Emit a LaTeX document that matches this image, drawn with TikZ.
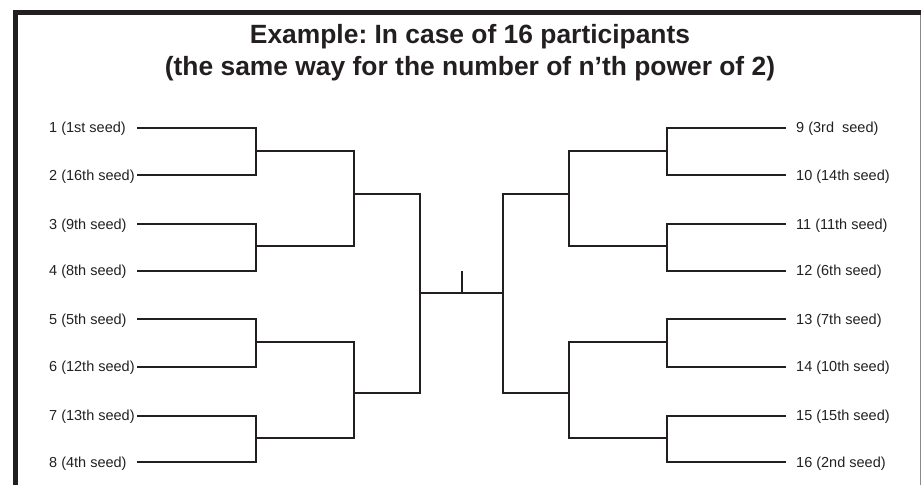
\documentclass[tikz,border=0pt]{standalone}
\usepackage{fontspec}
\setmainfont{Liberation Sans}
\frenchspacing
\begin{document}
\begin{tikzpicture}[x=1pt,y=-1pt,
  br/.style={draw=ink,line width=1.8pt,line cap=rect},
  lbl/.style={anchor=base west,inner sep=0pt,text=ink,font=\fontsize{14.5}{16}\selectfont},
  ttl/.style={anchor=base,inner sep=0pt,text=ink,font=\fontsize{26.4}{30}\selectfont\bfseries}]
\definecolor{ink}{HTML}{231F20}
\definecolor{edge}{HTML}{8A8A8A}
\useasboundingbox (0,0) rectangle (921,485);
% frame
\draw[ink,line width=5pt] (13.3,12.5) -- (921,12.5);
\draw[ink,line width=5pt] (15.8,10) -- (15.8,485);
\draw[edge,line width=1pt] (920,15) -- (920,485);
% title
\node[ttl] (t1) at (470,43) {Example: In case of 16 participants};
\node[ttl] (t2) at (470,75.5) {(the same way for the number of n’th power of 2)};
% row y positions
\def\ya{127.7}\def\yb{175}\def\yc{224}\def\yd{270.7}
\def\ye{319.3}\def\yf{366.7}\def\yg{415.7}\def\yh{462.3}
% left labels
\foreach \n/\y/\t in {1/\ya/1 (1st seed),2/\yb/2 (16th seed),3/\yc/3 (9th seed),4/\yd/4 (8th seed),
  5/\ye/5 (5th seed),6/\yf/6 (12th seed),7/\yg/7 (13th seed),8/\yh/8 (4th seed)}{
  \node[lbl] (l\n) at (49,\y+5) {\t};
  \coordinate (a\n) at (138,\y);
}
% right labels
\foreach \n/\y/\t in {9/\ya/9 (3rd\ \ seed),10/\yb/10 (14th seed),11/\yc/11 (11th seed),12/\yd/12 (6th seed),
  13/\ye/13 (7th seed),14/\yf/14 (10th seed),15/\yg/15 (15th seed),16/\yh/16 (2nd seed)}{
  \node[lbl] (l\n) at (796,\y+5) {\t};
  \coordinate (a\n) at (785,\y);
}
% left bracket coordinates
\coordinate (m1) at (256,150.7);
\coordinate (m2) at (256,245.7);
\coordinate (m3) at (256,342.3);
\coordinate (m4) at (256,437.7);
\coordinate (q1) at (354,194.3);
\coordinate (q2) at (354,392.7);
\coordinate (f1) at (420,292.7);
% right bracket coordinates
\coordinate (m5) at (667.3,150.7);
\coordinate (m6) at (667.3,245.7);
\coordinate (m7) at (667.3,342.3);
\coordinate (m8) at (667.3,437.7);
\coordinate (q3) at (569.3,194.3);
\coordinate (q4) at (569.3,392.7);
\coordinate (f2) at (503,292.7);
\coordinate (tk) at (462,292.7);
\coordinate (tkt) at (462,272.3);
% left side
\draw[br] (a1) -| (m1) |- (a2);
\draw[br] (a3) -| (m2) |- (a4);
\draw[br] (a5) -| (m3) |- (a6);
\draw[br] (a7) -| (m4) |- (a8);
\draw[br] (m1) -| (q1) |- (m2);
\draw[br] (m3) -| (q2) |- (m4);
\draw[br] (q1) -| (f1) |- (q2);
% right side
\draw[br] (a9) -| (m5) |- (a10);
\draw[br] (a11) -| (m6) |- (a12);
\draw[br] (a13) -| (m7) |- (a14);
\draw[br] (a15) -| (m8) |- (a16);
\draw[br] (m5) -| (q3) |- (m6);
\draw[br] (m7) -| (q4) |- (m8);
\draw[br] (q3) -| (f2) |- (q4);
% final
\draw[br] (f1) -- (f2);
\draw[br] (tk) -- (tkt);
\end{tikzpicture}
\end{document}
